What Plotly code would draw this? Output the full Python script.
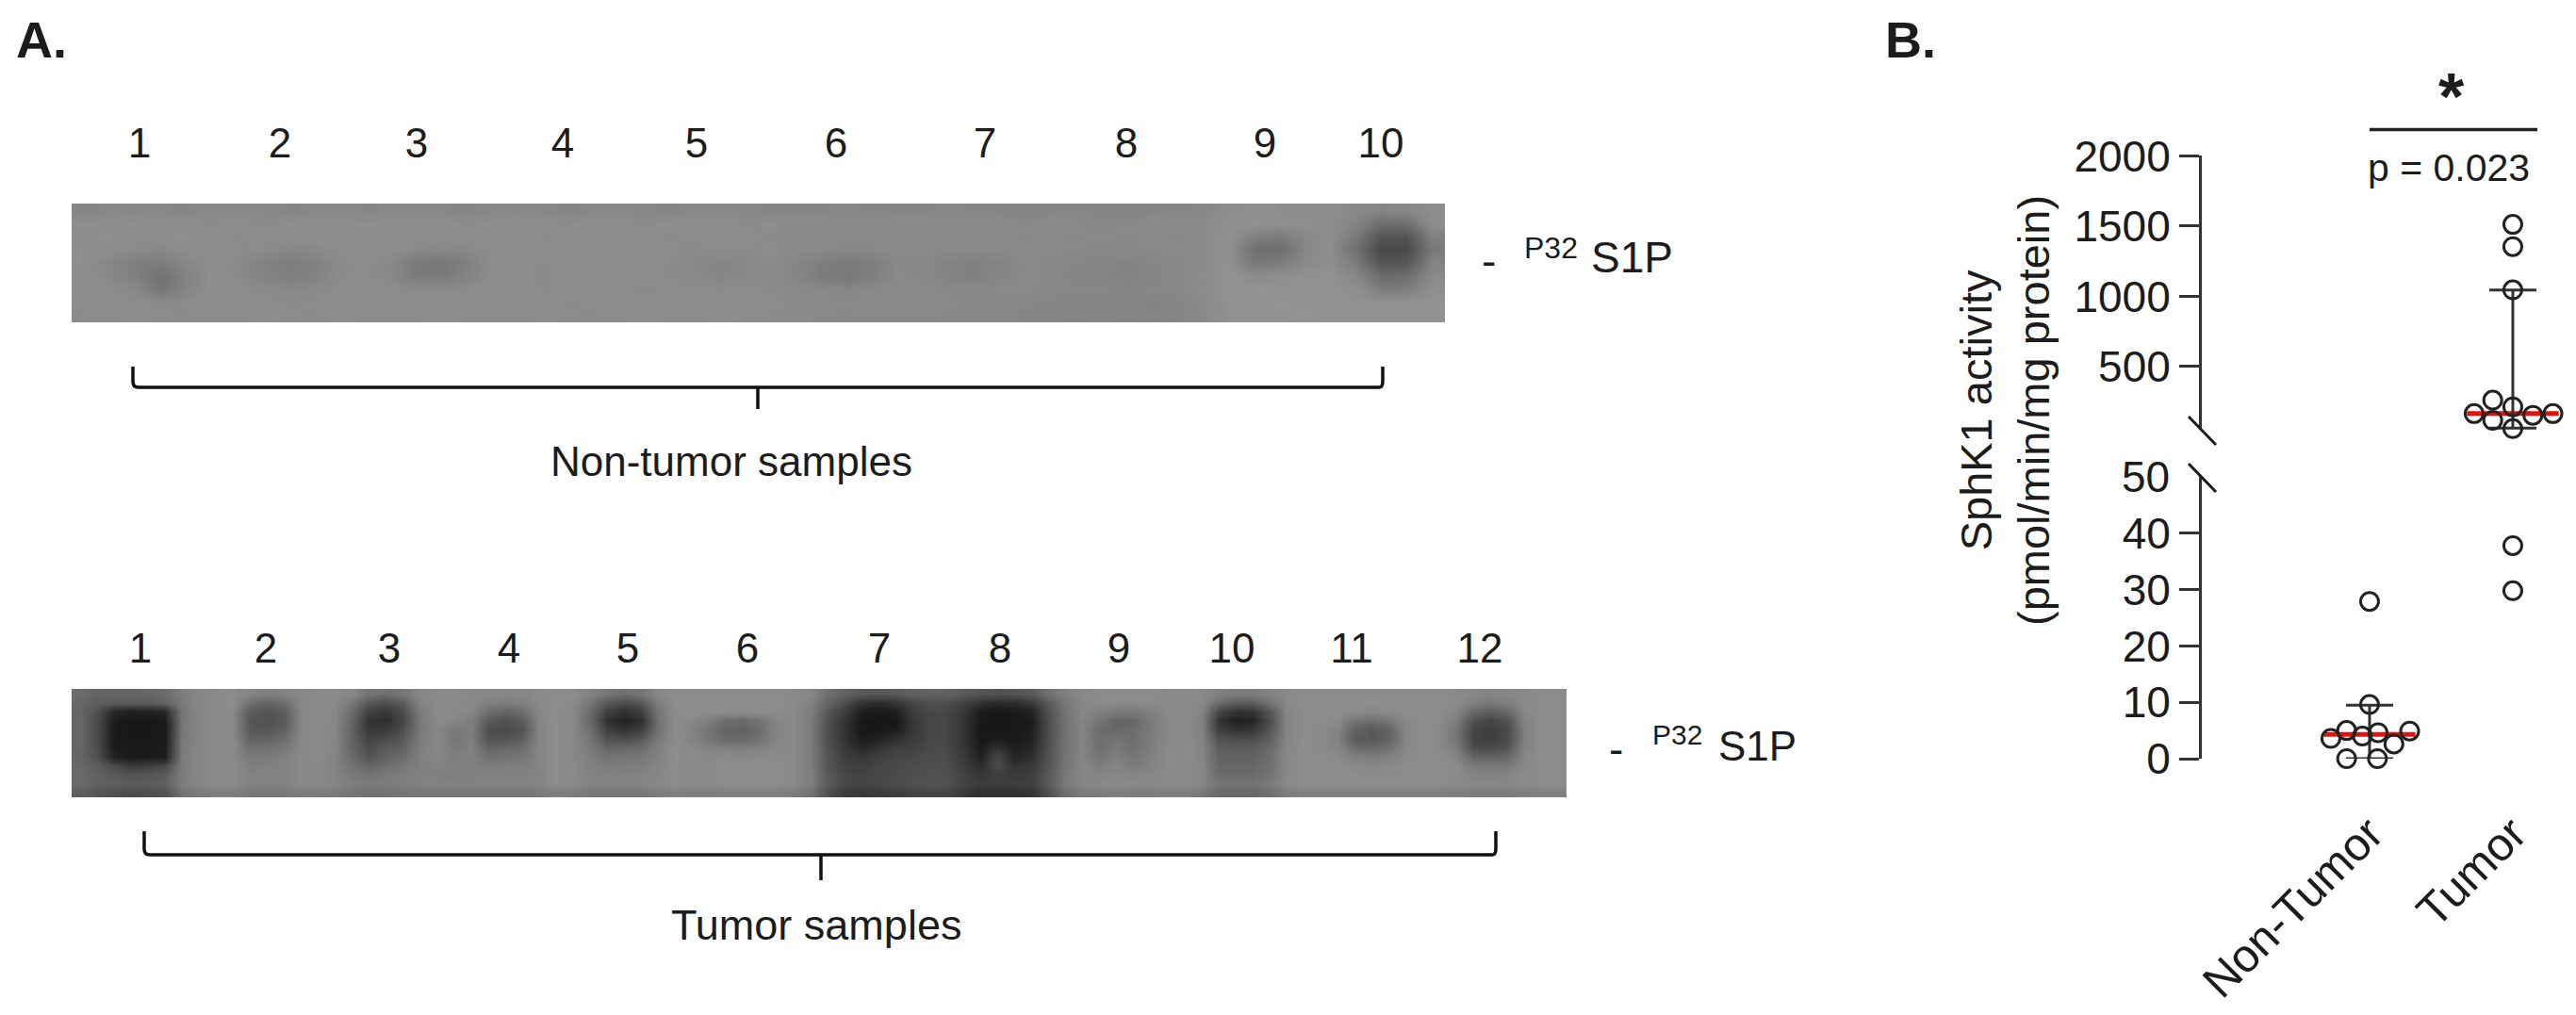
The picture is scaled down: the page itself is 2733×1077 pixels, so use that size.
import plotly.graph_objects as go

W, H = 2733, 1077
FONT = "Liberation Sans"
INK = "#1c1c1c"

# --- Panel B data ---
categories = ["Non-Tumor", "Tumor"]
nt_x = [1.00, 1.00, 0.84, 1.06, 1.28, 0.73, 0.95, 1.17, 0.84, 1.055]
nt_y = [27.9, 9.6, 5.0, 4.6, 4.9, 3.6, 4.0, 2.6, 0.0, 0.0]
t_low_x = [2.00, 2.00]
t_low_y = [37.8, 29.8]
t_high_x = [2.00, 2.00, 2.00, 1.86, 2.00, 1.73, 2.28, 2.14, 1.86, 2.00]
t_high_y = [1512, 1354, 1046, 261, 213, 165, 165, 153, 117, 58]
nt_median, nt_upper, nt_lower = 4.3, 9.5, 0.0
t_median, t_upper, t_lower = 165, 1045, 62
median_half_width = 0.32
low_ticks = [0, 10, 20, 30, 40]
high_ticks = [500, 1000, 1500, 2000]

nt_lanes = [148, 297, 442, 597, 739, 887, 1045, 1195, 1342, 1465]
nt_lane_labels = ["1", "2", "3", "4", "5", "6", "7", "8", "9", "10"]
t_lanes = [149, 282, 413, 540, 666, 793, 933, 1061, 1187, 1307, 1434, 1570]
t_lane_labels = ["1", "2", "3", "4", "5", "6", "7", "8", "9", "10", "11", "12"]

nontumor_gel = [
 [134,135,136,135,134,136,135,136,134,135,136,134,135,136,135,134,135,136,135,134,135,136,135,134,135,136,135,134,133,134,135,134,133,134,135,134,133,132,133,134,133,132,133,134,135,141,142,141,140,141,136,134,136,141],
 [140,141,142,140,141,139,141,138,140,141,140,142,141,140,141,139,140,141,140,139,141,140,139,140,141,140,139,140,138,139,138,137,138,139,138,137,138,137,138,137,136,137,138,137,138,144,145,144,142,140,132,110,112,142],
 [141,142,140,141,142,140,139,141,140,142,141,140,142,141,140,141,140,141,139,140,141,140,141,139,140,141,140,139,138,139,138,137,138,137,139,138,137,136,137,136,137,136,137,136,138,145,128,122,136,142,122,84,84,128],
 [142,141,138,136,141,142,140,138,135,136,140,141,140,137,135,136,140,141,140,141,140,140,141,140,138,138,139,140,138,136,135,136,138,138,137,136,137,138,137,137,136,136,137,137,138,145,112,110,134,142,112,72,74,122],
 [141,134,126,124,134,140,138,130,126,128,138,140,136,122,118,128,139,140,139,140,140,140,141,139,136,133,136,139,134,126,122,126,136,136,131,128,132,137,136,134,133,131,134,136,138,145,120,124,138,142,124,85,88,132],
 [141,136,128,114,130,141,139,131,127,129,139,140,137,124,122,131,140,141,139,140,141,140,140,139,137,134,137,139,134,124,120,127,137,136,132,128,133,138,136,133,132,130,133,136,139,146,140,142,144,145,136,108,110,138],
 [141,140,136,118,132,141,140,138,136,137,140,141,140,138,138,139,141,140,139,140,141,140,139,140,140,139,140,139,137,135,134,136,138,137,136,136,137,137,136,135,135,134,135,136,139,146,147,146,145,146,142,126,126,142],
 [140,141,140,138,140,141,141,140,139,140,141,140,141,141,140,140,141,140,141,139,140,141,140,141,140,140,141,140,139,138,137,138,138,138,137,136,136,135,134,132,133,132,131,133,138,145,146,147,146,146,145,144,145,146],
 [139,140,141,140,139,140,140,141,140,139,141,140,139,140,141,140,140,139,141,140,139,140,141,140,139,141,140,139,138,137,136,137,137,137,136,135,135,134,134,133,134,133,132,133,137,145,146,146,147,146,145,146,145,146],
]

tumor_gel = [
 [108,100, 100,100,102,108, 126,134,138,140, 132,128,130, 136,138,138,136, 118,112,118, 134,138,138,136, 136,134,134, 138,140,140,130, 118,112,118, 136,140,140,140, 140,140,140, 140,138,134, 112,98, 88,88,90, 96,98, 98,92, 84,82,84,90, 112,128, 136,140,140,140, 140,138,138,138, 128,124,124,130, 138,140,140,140, 140,140,140, 140,140,140,138, 134,132,134, 138,140,140],
 [104,92, 92,92,94,100, 124,134,138,140, 112,100,108, 136,138,138,120, 88,76,92, 130,138,138,136, 130,126,128, 138,140,138,118, 88,76,88, 126,140,140,140, 140,140,140, 140,138,130, 100,78, 52,44,52, 70,78, 78,66, 50,42,44,56, 90,120, 134,138,138,138, 138,138,138,136, 110,92,94,116, 136,140,140,140, 140,140,140, 140,140,140,138, 128,122,128, 138,140,140],
 [102,80, 40,30,32,40, 120,134,138,138, 92,84,92, 134,138,136,108, 66,56,74, 124,138,136,134, 110,100,108, 136,140,136,108, 64,48,62, 118,140,140,140, 140,140,140, 140,136,126, 88,60, 30,26,30, 60,72, 72,56, 28,24,26,34, 82,116, 136,128,122,122, 128,136,138,132, 70,50,52,86, 134,140,140,140, 138,136,138, 140,140,140,134, 104,94,104, 136,140,140],
 [102,76, 28,24,24,28, 118,134,138,138, 86,82,90, 134,138,136,104, 50,46,70, 120,138,134,126, 90,82,92, 134,140,136,104, 50,34,46, 112,140,136,126, 108,106,114, 134,136,124, 82,52, 24,22,24, 54,70, 70,52, 24,22,24,28, 78,114, 132,118,100,102, 122,136,138,130, 52,30,36,78, 132,140,140,138, 116,110,118, 136,140,140,124, 80,68,82, 130,140,140],
 [102,76, 26,24,24,26, 118,134,138,138, 88,86,96, 134,138,134,98, 56,58,76, 120,136,120,126, 78,74,84, 132,140,136,112, 62,50,62, 114,140,132,116, 100,100,110, 132,136,124, 80,50, 24,24,26, 56,70, 70,52, 24,24,24,30, 78,114, 132,108,104,108, 122,136,138,130, 62,50,54,84, 132,140,138,132, 98,90,100, 134,140,138,118, 70,62,74, 128,140,140],
 [102,76, 26,24,24,26, 120,134,138,138, 98,100,108, 136,138,134,100, 68,76,88, 124,136,118,126, 84,84,94, 132,140,136,118, 82,78,86, 120,140,132,118, 104,104,114, 134,136,124, 80,52, 28,34,48, 60,72, 72,52, 24,28,26,32, 78,114, 132,110,116,110, 124,136,138,132, 82,76,78,96, 134,140,138,130, 92,88,98, 134,140,138,118, 68,62,74, 128,140,140],
 [102,78, 28,26,26,28, 122,134,138,138, 112,114,120, 136,138,134,102, 76,90,98, 126,136,122,128, 100,104,108, 134,140,136,122, 102,104,108, 128,140,136,130, 128,126,130, 136,136,124, 82,56, 38,50,62, 66,74, 74,54, 26,50,30,38, 80,116, 132,112,122,112, 126,136,138,132, 94,94,94,106, 134,140,138,134, 108,106,112, 136,140,138,124, 78,74,84, 130,140,140],
 [102,82, 32,26,26,30, 124,134,138,138, 122,124,128, 136,138,132,108, 84,98,108, 128,134,126,130, 112,116,118, 134,140,136,126, 116,118,120, 130,140,138,136, 138,136,138, 138,136,124, 84,62, 56,64,70, 72,76, 76,58, 34,72,36,46, 82,116, 132,118,128,118, 128,136,138,132, 98,98,98,110, 136,140,140,138, 128,126,128, 138,140,140,134, 100,98,104, 134,140,140],
 [104,92, 74,60,62,72, 124,134,138,138, 126,128,130, 136,136,130,116, 100,112,118, 128,130,128,128, 124,126,126, 132,140,136,128, 124,126,126, 132,140,138,138, 140,140,140, 140,136,124, 86,66, 62,68,72, 76,78, 78,62, 44,74,52,58, 84,118, 134,126,132,124, 130,136,138,134, 102,102,102,112, 136,140,140,140, 136,136,136, 140,140,140,138, 122,120,122, 136,140,140],
 [106,96, 90,84,86,92, 126,134,138,138, 130,130,130, 136,136,132,122, 116,122,124, 128,128,126,128, 128,128,128, 132,140,136,130, 128,130,130, 134,140,138,138, 140,140,140, 140,136,126, 90,70, 66,70,74, 78,80, 80,66, 56,62,58,62, 88,120, 134,132,136,132, 134,138,138,134, 108,108,108,116, 136,140,140,140, 140,138,138, 140,140,140,138, 132,130,132, 138,140,140],
 [106,98, 94,92,92,96, 126,134,138,138, 130,130,130, 136,136,134,126, 122,124,126, 130,130,130,130, 130,130,130, 134,140,136,132, 130,132,132, 136,140,138,138, 140,140,140, 140,136,126, 92,72, 68,72,76, 80,82, 82,68, 60,62,62,64, 90,122, 134,136,138,136, 136,138,138,134, 116,116,116,122, 138,140,140,140, 140,140,140, 140,140,140,138, 136,136,136, 138,140,140],
 [94,86, 80,76,78,82, 114,122,126,126, 120,120,120, 124,124,122,116, 112,114,116, 118,118,118,118, 118,118,118, 122,128,124,120, 118,120,120, 124,128,126,126, 128,128,128, 128,124,114, 80,60, 56,58,62, 68,70, 70,56, 48,50,50,52, 78,110, 122,124,126,124, 124,126,126,122, 104,104,104,110, 126,128,128,128, 128,128,128, 128,128,128,126, 124,124,124, 126,128,128],
]
assert all(len(r) == 88 for r in tumor_gel)
assert all(len(r) == 54 for r in nontumor_gel)

# --- Layout helpers: reference pixel to paper fraction ---
def px(x):
    return x / W

def py(y):
    return 1 - y / H

def note(text, x, y, size, bold=False, angle=0, xanchor="center", yanchor="middle", yref="paper"):
    return dict(
        text=f"<b>{text}</b>" if bold else text, x=px(x), y=py(y) if yref == "paper" else y,
        xref="paper", yref=yref, xanchor=xanchor, yanchor=yanchor, showarrow=False, textangle=angle,
        font=dict(family=FONT, size=size, color=INK),
    )

def stroke(x0, y0, x1, y1, width=3.0, color=INK):
    return dict(type="line", xref="paper", yref="paper", x0=px(x0), y0=py(y0), x1=px(x1), y1=py(y1),
                line=dict(color=color, width=width))

def bracket(left, right, mid, top, bar, tail):
    path = (f"M {px(left)},{py(top)} L {px(left)},{py(bar-6)} Q {px(left)},{py(bar)} {px(left+6)},{py(bar)} "
            f"L {px(right-4)},{py(bar)} Q {px(right)},{py(bar)} {px(right)},{py(bar-6)} L {px(right)},{py(top)}")
    return [
        dict(type="path", xref="paper", yref="paper", path=path, line=dict(color="#111111", width=3.5)),
        stroke(mid, bar, mid, tail, 3.5, "#111111"),
    ]

GREY = [[0, "rgb(0,0,0)"], [1, "rgb(255,255,255)"]]
NT_BOX = (76, 1533, 216, 342)
T_BOX = (76, 1662, 731, 846)

def gel_trace(grid, box, xa, ya):
    x0, x1, y0, y1 = box
    dx = (x1 - x0) / len(grid[0])
    dy = (y1 - y0) / len(grid)
    return go.Heatmap(z=grid, x0=x0 + dx / 2, dx=dx, y0=y0 + dy / 2, dy=dy, zmin=0, zmax=255,
                      colorscale=GREY, showscale=False, zsmooth="best", xaxis=xa, yaxis=ya, hoverinfo="skip")

fig = go.Figure()
fig.add_trace(gel_trace(nontumor_gel, NT_BOX, "x2", "y3"))
fig.add_trace(gel_trace(tumor_gel, T_BOX, "x3", "y4"))

# median lines under the points
def median_line(center, value, ya):
    fig.add_trace(go.Scatter(x=[center - median_half_width, center + median_half_width], y=[value, value],
                             mode="lines", line=dict(color="#e3140f", width=5), yaxis=ya, xaxis="x",
                             showlegend=False, hoverinfo="skip", cliponaxis=False))

median_line(1, nt_median, "y")
median_line(2, t_median, "y2")

# error bars around the medians
def whisker(center, value, upper, lower, ya):
    fig.add_trace(go.Scatter(x=[center], y=[value], mode="none", yaxis=ya, xaxis="x", showlegend=False,
                             cliponaxis=False, hoverinfo="skip",
                             error_y=dict(type="data", symmetric=False, array=[upper - value],
                                          arrayminus=[value - lower], color="#333333", thickness=3, width=25)))

whisker(1, nt_median, nt_upper, nt_lower, "y")
whisker(2, t_median, t_upper, t_lower, "y2")

marker = dict(symbol="circle-open", size=19, color="#222222", line=dict(color="#222222", width=3))
for xs, ys, ya in [(nt_x, nt_y, "y"), (t_low_x, t_low_y, "y"), (t_high_x, t_high_y, "y2")]:
    fig.add_trace(go.Scatter(x=xs, y=ys, mode="markers", marker=marker, yaxis=ya, xaxis="x",
                             showlegend=False, cliponaxis=False))

AXIS_X = 2336
y_axis_common = dict(
    anchor="x", automargin=False, showgrid=False, zeroline=False, showline=True, linecolor="#333333", linewidth=3,
    ticks="outside", ticklen=21, tickwidth=3, tickcolor="#333333",
    tickfont=dict(family=FONT, size=46, color=INK),
)
gel_y = dict(automargin=False, showgrid=False, zeroline=False, showticklabels=False, ticks="", showline=False)
gel_x = dict(automargin=False, showgrid=False, zeroline=False, showline=False, side="top", ticks="outside",
             tickcolor="rgba(0,0,0,0)", tickwidth=1, tickangle=0, tickmode="array",
             tickfont=dict(family=FONT, size=44, color=INK))

shapes = []
shapes += bracket(141, 1467, 804, 389, 411, 434)
shapes += bracket(153, 1587, 871, 882, 907, 934)
shapes += [
    stroke(2514, 137.5, 2692, 137.5, 3.5, "#222222"),
    stroke(2322, 442, 2351, 472),
    stroke(2322, 492, 2351, 522),
]

annotations = [
    note("A.", 15, 42, 54, bold=True, xanchor="left"),
    note("B.", 1998, 42, 54, bold=True, xanchor="left"),
    note("Non-tumor samples", 776, 490, 44),
    note("Tumor samples", 866, 981, 45),
    note("-", 1579, 277, 46),
    note("P32", 1615, 263, 32, xanchor="left"),
    note("S1P", 1686, 273, 46, xanchor="left"),
    note("-", 1714, 795, 46),
    note("P32", 1751, 779, 30, xanchor="left"),
    note("S1P", 1821, 791, 44, xanchor="left"),
    note("*", 2601, 103, 70, bold=True),
    note("p = 0.023", 2598, 178, 41),
    note("SphK1 activity<br>(pmol/min/mg protein)", 2127, 436, 47, angle=-90),
    note("50", 2304, 50, 46, xanchor="right", yref="y"),
]

fig.update_layout(
    width=W, height=H, autosize=False, margin=dict(l=0, r=0, t=0, b=0),
    paper_bgcolor="white", plot_bgcolor="rgba(0,0,0,0)", showlegend=False,
    font=dict(family=FONT, color=INK),
    xaxis=dict(domain=[px(AXIS_X), 1], range=[-0.171, 2.441], anchor="y", automargin=False, showgrid=False, zeroline=False,
               showline=False, tickmode="array", tickvals=[1, 2], ticktext=categories, tickangle=-45,
               ticks="outside", ticklen=30, tickcolor="rgba(0,0,0,0)",
               tickfont=dict(family=FONT, size=49, color=INK)),
    yaxis=dict(domain=[py(805), py(506)], range=[0, 50], tickmode="array", tickvals=low_ticks, **y_axis_common),
    yaxis2=dict(domain=[py(456), py(165.4)], range=[50, 2000], tickmode="array", tickvals=high_ticks, **y_axis_common),
    xaxis2=dict(domain=[px(NT_BOX[0]), px(NT_BOX[1])], range=[NT_BOX[0], NT_BOX[1]], anchor="y3",
                tickvals=nt_lanes, ticktext=nt_lane_labels, ticklen=30, **gel_x),
    yaxis3=dict(domain=[py(NT_BOX[3]), py(NT_BOX[2])], range=[NT_BOX[3], NT_BOX[2]], anchor="x2", **gel_y),
    xaxis3=dict(domain=[px(T_BOX[0]), px(T_BOX[1])], range=[T_BOX[0], T_BOX[1]], anchor="y4",
                tickvals=t_lanes, ticktext=t_lane_labels, ticklen=9, **gel_x),
    yaxis4=dict(domain=[py(T_BOX[3]), py(T_BOX[2])], range=[T_BOX[3], T_BOX[2]], anchor="x3", **gel_y),
    shapes=shapes, annotations=annotations,
)

fig.write_html("out.html", config={"displayModeBar": False}, post_script="document.body.style.margin='0';")
